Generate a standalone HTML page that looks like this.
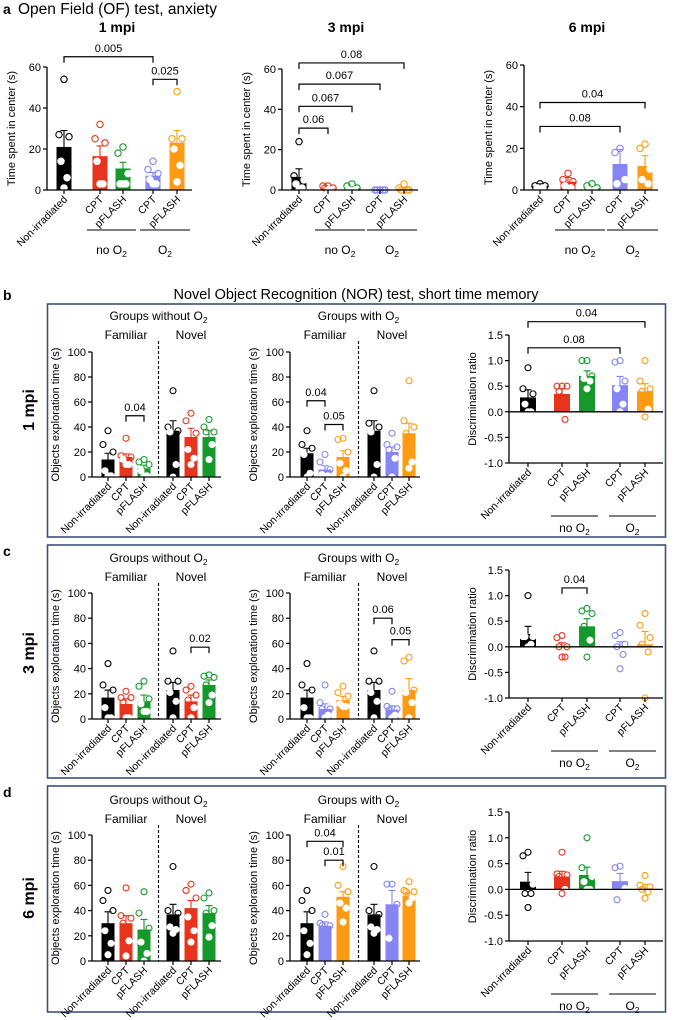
<!DOCTYPE html>
<html><head><meta charset="utf-8"><style>
html,body{margin:0;padding:0;background:#fff;}
svg{display:block;font-family:"Liberation Sans",Arial,sans-serif;}
</style></head><body>
<svg id="fig" width="676" height="1020" viewBox="0 0 676 1020" xmlns="http://www.w3.org/2000/svg"></svg>
<script>
// ---------- DATA ----------
const catsA = ["Non-irradiated","CPT","pFLASH","CPT","pFLASH"];
const catsN = ["Non-irradiated","CPT","pFLASH","Non-irradiated","CPT","pFLASH"];
const colsA = ["#000000","#e8341c","#14992a","#8585f4","#ff9b12"];
const colsNwo = ["#000000","#e8341c","#14992a","#000000","#e8341c","#14992a"];
const colsNw = ["#000000","#8585f4","#ff9b12","#000000","#8585f4","#ff9b12"];
const ticksTime60 = [0,20,40,60];
const ticksTime100 = [0,20,40,60,80,100];
const ticksRatio = [-1.0,-0.5,0.0,0.5,1.0,1.5];

// Panel a, 1 mpi
const a1Means = [21,16.5,10.5,7,23];
const a1Errs = [8,5,3,1.5,6];
const a1Pts = [[54,27,26,14,6,1],[32,25,23,14,3,3],[21,18,8,3,3,3],[14,10,8,5,3,3],[48,25,25,20,12,4]];
const a1BrFrom=[0,3], a1BrTo=[3,4], a1BrVal=[65,54], a1BrLbl=["0.005","0.025"];
// Panel a, 3 mpi
const a2Means = [6.5,0.8,1,0,0.5];
const a2Errs = [4,0.3,0.5,0,0.4];
const a2Pts = [[24,7,5,3,1,0],[2,2,1,1,0,0],[3,2,1,0,0],[0,0,0,0,0],[3,1,0,0,0]];
const a2BrFrom=[0,0,0,0], a2BrTo=[4,3,2,1], a2BrVal=[63,52.5,41.5,30.7], a2BrLbl=["0.08","0.067","0.067","0.06"];
// Panel a, 6 mpi
const a3Means = [2,4,1,12.5,11.5];
const a3Errs = [1,2,0.6,7,5];
const a3Pts = [[3,2,2,1,1],[8,5,4,2,1],[3,2,1,0,0],[20,18,5,3],[22,20,10,5,3]];
const a3BrFrom=[0,0], a3BrTo=[4,3], a3BrVal=[42,30.5], a3BrLbl=["0.04","0.08"];

// b 1 mpi
const b1Means=[14,16,7,37,32,32], b1Errs=[5,2.5,2.5,8,7,5];
const b1Pts=[[37,26,20,5,1,1],[31,17,16,14,10,10],[14,12,10,5,1,1],[69,40,37,36,10,0],[51,45,35,22,15,10],[46,40,36,36,26,14]];
const b1BrFrom=[1], b1BrTo=[2], b1BrVal=[49], b1BrLbl=["0.04"];
const b2Means=[19,6,16,37,20,35], b2Errs=[4,3,5,8,4,8];
const b2Pts=[[37,26,23,18,3,0],[18,12,6,2,1,0],[31,30,20,11,5,0],[69,43,40,36,10,0],[35,26,24,22,15,0],[77,45,40,35,12,7]];
const b2BrFrom=[0,1], b2BrTo=[1,2], b2BrVal=[61,42], b2BrLbl=["0.04","0.05"];
const b3Means=[0.28,0.35,0.7,0.52,0.4], b3Errs=[0.15,0.1,0.1,0.17,0.15];
const b3Pts=[[0.86,0.45,0.35,0.15,0,0],[0.5,0.5,0.5,0.4,-0.15],[1.0,1.0,0.7,0.65,0.6,0.45],[1.0,0.97,0.6,0.45,0.15,0],[1.0,0.6,0.45,0.4,0.05,-0.1]];
const b3BrFrom=[0,0], b3BrTo=[4,3], b3BrVal=[1.76,1.25], b3BrLbl=["0.04","0.08"];

// c 3 mpi
const c1Means=[17,12,14,23,14,27], c1Errs=[6,4,5,6,5,4];
const c1Pts=[[44,27,23,9,1,1],[22,17,17,13,1,1],[30,26,16,12,6,6],[54,30,30,21,14,1],[26,23,19,15,9,1],[35,34,33,27,19,13]];
const c1BrFrom=[4], c1BrTo=[5], c1BrVal=[57], c1BrLbl=["0.02"];
const c2Means=[17,8,15,23,7.5,23], c2Errs=[6,4,3,6,3,9];
const c2Pts=[[44,27,23,9,1,1],[27,13,8,8,3,1],[26,21,18,12,10,10],[54,30,30,21,14,1],[22,10,8,7,3,1],[49,46,23,21,13,1]];
const c2BrFrom=[3,4], c2BrTo=[4,5], c2BrVal=[80,63], c2BrLbl=["0.06","0.05"];
const c3Means=[0.25,0,0.4,0,0.05], c3Errs=[0.15,0.08,0.15,0.1,0.25];
const c3Pts=[[1.0,0.2,0.2,0.2,0.05,0],[0.22,0.18,0,0,-0.2,-0.2],[0.75,0.7,0.65,0.4,0.13,-0.2],[0.28,0.22,0.05,0,-0.15,-0.43],[0.65,0.42,0.18,0.05,-0.1,-1.0]];
const c3BrFrom=[1], c3BrTo=[2], c3BrVal=[1.15], c3BrLbl=["0.04"];

// d 6 mpi
const d1Means=[30,30,25,37,42,38], d1Errs=[9,6,8,8,6,6];
const d1Pts=[[56,48,40,24,14,5],[58,36,34,30,16,4],[55,38,26,15,6,0],[75,40,38,27,25,22],[61,56,50,35,24,15],[54,50,40,38,28,19]];
const d1BrFrom=[], d1BrTo=[], d1BrVal=[], d1BrLbl=[];
const d2Means=[30,28,51,37,45,52], d2Errs=[9,3,4,8,11,2];
const d2Pts=[[56,48,40,24,14,5],[37,30,28,28],[75,60,55,46,42,31],[75,40,37,27,25,22],[61,61,45,18],[63,56,55,55,50,46]];
const d2BrFrom=[0,1], d2BrTo=[2,2], d2BrVal=[95,80], d2BrLbl=["0.04","0.01"];
const d3Means=[0.15,0.25,0.28,0.16,0.02], d3Errs=[0.18,0.1,0.15,0.15,0.08];
const d3Pts=[[0.72,0.65,0.1,-0.08,-0.08,-0.35],[0.72,0.3,0.28,0.25,0,-0.08],[1.0,0.42,0.25,0.15,0,0],[0.45,0.42,0.02,-0.2],[0.27,0.08,0.05,0,-0.05,-0.17]];
const d3BrFrom=[], d3BrTo=[], d3BrVal=[], d3BrLbl=[];

// ---------- DRAWING ----------
const NS="http://www.w3.org/2000/svg";
const svg=document.getElementById('fig');
function mk(tag,attrs,parent){const e=document.createElementNS(NS,tag);for(const k in attrs)e.setAttribute(k,attrs[k]);(parent||svg).appendChild(e);return e;}
function txt(x,y,s,size,anchor,parent,weight){const t=mk('text',{x:x,y:y,'font-size':size,'text-anchor':anchor||'middle','font-weight':weight||'normal',fill:'#000'},parent);t.textContent=s;return t;}
function o2Label(x,y,pre,parent){const t=mk('text',{x:x,y:y,'font-size':12,'text-anchor':'middle',fill:'#000'},parent);t.textContent=pre+'O';const s=mk('tspan',{dy:3,'font-size':8.5},t);s.textContent='2';return t;}
const offs=[0,-5,5,-3,3,0,-6,6];

function chart(name,L,cats,means,errs,pts,cols,ticks,dec,brF,brT,brV,brL,ytitle){
  const g=mk('g',{});
  
  
  const vmin=ticks[0], vmax=ticks[ticks.length-1];
  const Y=v=>L.y0-(v-vmin)/(vmax-vmin)*(L.y0-L.yTop);
  const X=i=>L.xs[i];
  const ya=mk('line',{x1:L.ax,y1:L.yTop,x2:L.ax,y2:L.y0,stroke:'#000','stroke-width':1.3},g);
  
  
  ticks.forEach(v=>{
    mk('line',{x1:L.ax-4,y1:Y(v),x2:L.ax,y2:Y(v),stroke:'#000','stroke-width':1.2},g);
    const tl=txt(L.ax-6,Y(v)+4,v.toFixed(dec),11,'end',g);
    
    
  });
  const yt=txt(0,0,ytitle,11,'middle',g);
  yt.setAttribute('transform','translate('+(L.ax-L.tOff)+','+((L.y0+L.yTop)/2)+') rotate(-90)');
  
  
  const base=Y(Math.max(0,vmin));
  means.forEach((m,i)=>{
    const c=cols[i];
    const top=Y(m);
    const r=mk('rect',{x:X(i)-L.w/2,y:Math.min(top,base),width:L.w,height:Math.max(0.8,Math.abs(base-top)),fill:c},g);
    
    
    const ey=Y(m+errs[i]);
    const eb=mk('path',{d:'M'+X(i)+' '+top+'V'+ey+'M'+(X(i)-3.5)+' '+ey+'H'+(X(i)+3.5),stroke:c,'stroke-width':1.1,fill:'none'},g);
    
    
    pts[i].forEach((v,k)=>{
      const inside=(m>=0? (v<m-0.5*(vmax-vmin)/60 && v>=0): false);
      const py=Y(v);
      const cc=mk('circle',{cx:X(i)+offs[k%offs.length],cy:py,r:L.r,fill:inside?'#fff':'none',stroke:inside?'#fff':c,'stroke-width':1.1},g);
      
      
    });
  });
  const zx=mk('line',{x1:L.ax,y1:base,x2:L.xEnd,y2:base,stroke:'#000','stroke-width':1.3},g);
  
  
  const bottom=L.y0;
  if(vmin<0){mk('line',{x1:L.ax,y1:bottom,x2:L.xEnd,y2:bottom,stroke:'#000','stroke-width':1.3},g);}
  cats.forEach((c,i)=>{
    mk('line',{x1:X(i),y1:bottom,x2:X(i),y2:bottom+4,stroke:'#000','stroke-width':1.2},g);
    const t=txt(0,0,c,10.5,'end',g);
    t.setAttribute('transform','translate('+(X(i)+4)+','+(bottom+10)+') rotate(-45)');
    
    
  });
  brF.forEach((f,k)=>{
    const yb=Y(brV[k]);
    const b=mk('path',{d:'M'+X(f)+' '+(yb+6)+'V'+yb+'H'+X(brT[k])+'V'+(yb+6),stroke:'#000','stroke-width':1.2,fill:'none'},g);
    
    
    const bl=txt((X(f)+X(brT[k]))/2,yb-5,brL[k],11,'middle',g);
    
    
  });
  if(L.groups){
    const gl=bottom+L.gLine;
    [[1,2,'no '],[3,4,'']].forEach(gr=>{
      const x1=X(gr[0])-L.gPad, x2=X(gr[1])+L.gPad;
      const ln=mk('line',{x1:x1,y1:gl,x2:x2,y2:gl,stroke:'#000','stroke-width':1.1},g);
      
      
      const lb=o2Label((x1+x2)/2,bottom+L.gText,gr[2],g);
      
      
    });
  }
  if(L.nor){
    const dx=(X(2)+X(3))/2;
    const dl=mk('line',{x1:dx,y1:L.y0-L.dashTop,x2:dx,y2:L.y0,stroke:'#000','stroke-width':1.1,'stroke-dasharray':'3,2'},g);
    
    
    const h1=txt(X(1),L.y0-L.hOff,'Familiar',12,'middle',g);
    
    
    const h2=txt(X(4),L.y0-L.hOff,'Novel',12,'middle',g);
    
    
    const gh=mk('text',{x:dx,y:L.y0-L.hOff-19,'font-size':12,'text-anchor':'middle',fill:'#000'},g);
    gh.textContent=L.nor;
    const s=mk('tspan',{dy:3,'font-size':8.5},gh);s.textContent='2';
    
    
  }
  if(L.title){
    const tt=txt(L.titleX,32,L.title,14,'middle',g,'bold');
    
    
  }
}

const pa=txt(3,14,'a',14,'start',svg,'bold');


const pat=txt(18,14,'Open Field (OF) test, anxiety',15.5,'start',svg);



const LA={w:15,r:3.2,groups:true,gLine:40,gText:64,gPad:13,tOff:32};
chart('chart-a-1mpi',Object.assign({},LA,{ax:47,y0:190,yTop:67,xs:[64,100,123,153,177],xEnd:192,title:'1 mpi',titleX:117}),catsA,a1Means,a1Errs,a1Pts,colsA,ticksTime60,0,a1BrFrom,a1BrTo,a1BrVal,a1BrLbl,'Time spent in center (s)');
chart('chart-a-3mpi',Object.assign({},LA,{ax:282,y0:190,yTop:69,xs:[299,328,352,380,404],xEnd:418,title:'3 mpi',titleX:346}),catsA,a2Means,a2Errs,a2Pts,colsA,ticksTime60,0,a2BrFrom,a2BrTo,a2BrVal,a2BrLbl,'Time spent in center (s)');
chart('chart-a-6mpi',Object.assign({},LA,{ax:524,y0:190,yTop:65,xs:[540,568,592,620,645],xEnd:658,title:'6 mpi',titleX:587}),catsA,a3Means,a3Errs,a3Pts,colsA,ticksTime60,0,a3BrFrom,a3BrTo,a3BrVal,a3BrLbl,'Time spent in center (s)');

const pb=txt(3,300,'b',14,'start',svg,'bold');


const pbt=txt(356,299,'Novel Object Recognition (NOR) test, short time memory',14.5,'middle',svg);


const pc=txt(3,556,'c',14,'start',svg,'bold');


const pd=txt(3,797,'d',14,'start',svg,'bold');



const boxes=[[304,233,'1 mpi',410],[545,233,'3 mpi',653],[786,226,'6 mpi',898]];
boxes.forEach(b=>{
  const r=mk('rect',{x:47.5,y:b[0],width:618,height:b[1],fill:'none',stroke:'#3d5078','stroke-width':1.6});
  
  
  const t=txt(0,0,b[2],16,'middle',svg,'bold');
  t.setAttribute('transform','translate(34,'+b[3]+') rotate(-90)');
  
  
});

const LN={w:13,r:3,tOff:33,dashTop:136,hOff:138};
const xs1=[108,126,144,173,191,209], xs2=[307,325,343,374,392,409];
const LD={w:16,r:3,groups:true,gLine:53,gText:69,gPad:11,tOff:33,ax:509,xs:[528,562,587,620,645],xEnd:663};
const rows=[
  [477,352,335,463,'b',b1Means,b1Errs,b1Pts,b1BrFrom,b1BrTo,b1BrVal,b1BrLbl,b2Means,b2Errs,b2Pts,b2BrFrom,b2BrTo,b2BrVal,b2BrLbl,b3Means,b3Errs,b3Pts,b3BrFrom,b3BrTo,b3BrVal,b3BrLbl],
  [719,593,570,698,'c',c1Means,c1Errs,c1Pts,c1BrFrom,c1BrTo,c1BrVal,c1BrLbl,c2Means,c2Errs,c2Pts,c2BrFrom,c2BrTo,c2BrVal,c2BrLbl,c3Means,c3Errs,c3Pts,c3BrFrom,c3BrTo,c3BrVal,c3BrLbl],
  [961,835,812,941,'d',d1Means,d1Errs,d1Pts,d1BrFrom,d1BrTo,d1BrVal,d1BrLbl,d2Means,d2Errs,d2Pts,d2BrFrom,d2BrTo,d2BrVal,d2BrLbl,d3Means,d3Errs,d3Pts,d3BrFrom,d3BrTo,d3BrVal,d3BrLbl]
];
rows.forEach(R=>{
  chart('chart-'+R[4]+'-without-o2',Object.assign({},LN,{ax:92,y0:R[0],yTop:R[1],xs:xs1,xEnd:221,nor:'Groups without O'}),catsN,R[5],R[6],R[7],colsNwo,ticksTime100,0,R[8],R[9],R[10],R[11],'Objects exploration time (s)');
  chart('chart-'+R[4]+'-with-o2',Object.assign({},LN,{ax:290,y0:R[0],yTop:R[1],xs:xs2,xEnd:420,nor:'Groups with O'}),catsN,R[12],R[13],R[14],colsNw,ticksTime100,0,R[15],R[16],R[17],R[18],'Objects exploration time (s)');
  chart('chart-'+R[4]+'-discrimination',Object.assign({},LD,{y0:R[3],yTop:R[2]}),catsA,R[19],R[20],R[21],colsA,ticksRatio,1,R[22],R[23],R[24],R[25],'Discrimination ratio');
});
</script>
</body></html>
